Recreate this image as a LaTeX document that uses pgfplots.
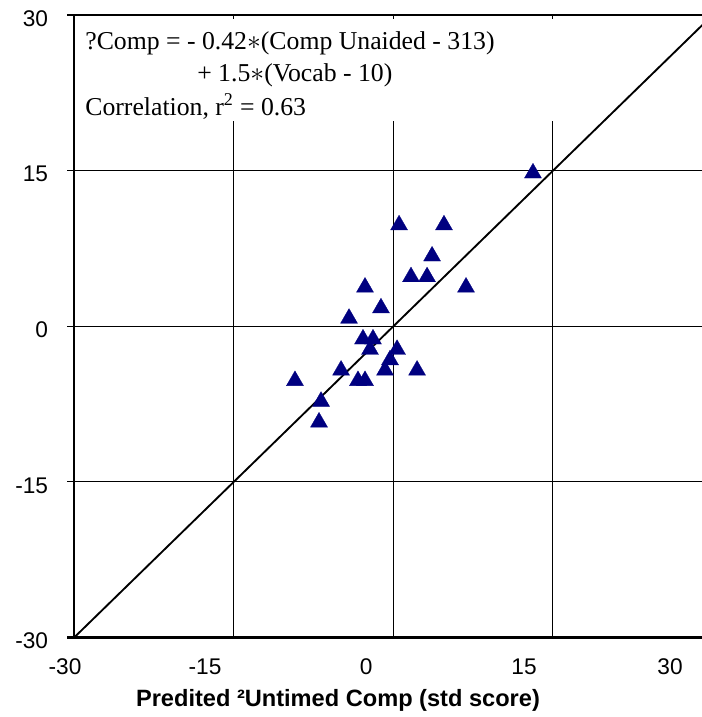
\documentclass[border=0pt]{standalone}
\usepackage{fontspec}
\setmainfont{Liberation Sans}
\newfontfamily\tnr{Liberation Serif}
\usepackage{pgfplots}
\pgfplotsset{compat=1.18}
\definecolor{navy}{RGB}{0,0,128}
\tikzset{
  xlab/.style={font=\fontsize{17pt}{19pt}\selectfont, inner sep=0pt, yshift=-21.75pt},
  ann/.style={anchor=base west, inner sep=0pt, font=\tnr\fontsize{19.3pt}{22pt}\selectfont},
}
\begin{document}
\begin{tikzpicture}
\begin{axis}[
  at={(55.5pt,59.5pt)}, anchor=south west,
  scale only axis, width=471pt, height=467pt,
  xmin=-30, xmax=29, ymin=-30, ymax=30,
  xtick={-30,-15,0,15}, xticklabels={},
  ytick={-30,-15,0,15,30}, yticklabels={-30,-15,0,15,30},
  ytick pos=left, xtick pos=left,
  tick align=outside, major tick length=5.25pt,
  xtick style={draw=none},
  ytick style={black, line width=0.75pt},
  grid=major, grid style={black, line width=0.75pt},
  axis line style={draw=none},
  yticklabel style={font=\fontsize{17pt}{19pt}\selectfont, inner sep=0pt, xshift=-14pt, yshift=-2.5pt},
  clip mode=individual,
]
\addplot[black, line width=1.4pt] coordinates {(-30,-30) (30,30)};
\fill[white] (axis cs:-30,19.8) rectangle (axis cs:19.6,29.6);
\addplot[only marks, mark=triangle*, mark size=7.4pt,
  mark options={fill=navy, draw=navy, line width=0.2pt, yshift=-1.85pt}] coordinates {
(13.12,15) (0.54,10) (4.76,10) (3.64,7) (1.66,5) (3.17,5) (6.83,4) (-2.66,4)
(-1.16,2) (-4.16,1) (-2.85,-1) (-1.91,-1) (-2.19,-2) (0.35,-2) (-0.31,-3)
(-0.78,-4) (2.23,-4) (-4.91,-4) (-9.24,-5) (-3.32,-5) (-2.66,-5) (-6.79,-7) (-6.98,-9)
};
% borders
\draw[line width=2pt] ([xshift=-5.25pt]axis cs:-30,30) -- (axis cs:29,30);
\draw[line width=2pt] ([xshift=-5.25pt]axis cs:-30,-30) -- (axis cs:29,-30);
\draw[line width=2pt] (axis cs:-30,30) -- (axis cs:-30,-30);
% annotation
\node[ann] at (axis cs:-28.96,26.63) {?Comp = - 0.42$\ast$(Comp Unaided - 313)};
\node[ann] at (axis cs:-18.44,23.55) {+ 1.5$\ast$(Vocab - 10)};
\node[ann] at (axis cs:-28.96,20.27) {Correlation, r\textsuperscript{2} = 0.63};
% x tick labels
\node[xlab] at (axis cs:-30.84,-30) {-30};
\node[xlab] at (axis cs:-17.69,-30) {-15};
\node[xlab] at (axis cs:-2.56,-30) {0};
\node[xlab] at (axis cs:12.28,-30) {15};
\node[xlab] at (axis cs:26.0,-30) {30};
% x axis label
\node[font=\bfseries\fontsize{17.7pt}{20pt}\selectfont, inner sep=0pt] at ([yshift=-47pt]axis cs:-5.2,-30) {Predited ²Untimed Comp (std score)};
\end{axis}
\pgfresetboundingbox
\path (0,0) rectangle (526.5pt,537.75pt);
\end{tikzpicture}
\end{document}
